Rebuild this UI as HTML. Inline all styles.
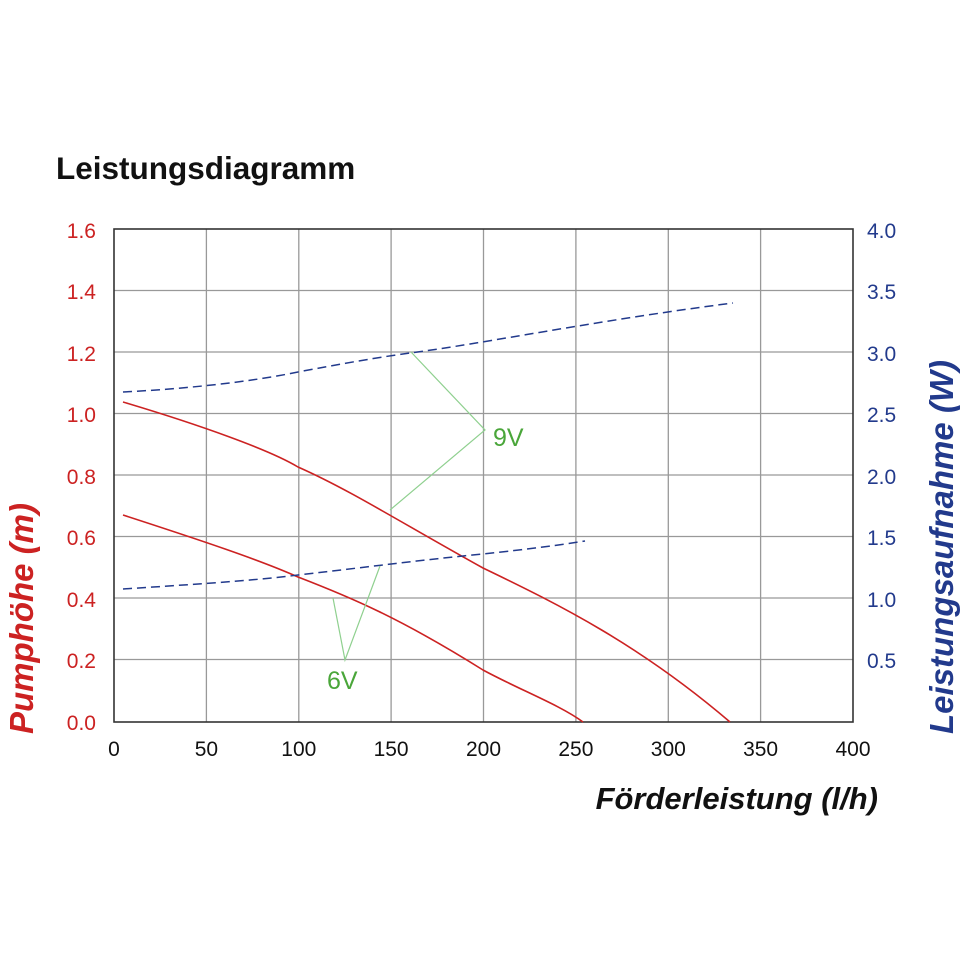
<!DOCTYPE html>
<html><head><meta charset="utf-8"><style>
body{margin:0;background:#fff}
svg{display:block;font-family:"Liberation Sans",Arial,sans-serif}
</style></head><body>
<svg width="970" height="971" viewBox="0 0 970 971">
<text x="56" y="179" font-size="31.5" font-weight="bold" fill="#111">Leistungsdiagramm</text>
<g stroke="#999" stroke-width="1.3">
<line x1="206.4" y1="229" x2="206.4" y2="722"/><line x1="298.8" y1="229" x2="298.8" y2="722"/>
<line x1="391.1" y1="229" x2="391.1" y2="722"/><line x1="483.5" y1="229" x2="483.5" y2="722"/>
<line x1="575.9" y1="229" x2="575.9" y2="722"/><line x1="668.3" y1="229" x2="668.3" y2="722"/>
<line x1="760.6" y1="229" x2="760.6" y2="722"/>
<line x1="114" y1="290.5" x2="853" y2="290.5"/><line x1="114" y1="352" x2="853" y2="352"/>
<line x1="114" y1="413.5" x2="853" y2="413.5"/><line x1="114" y1="475" x2="853" y2="475"/>
<line x1="114" y1="536.5" x2="853" y2="536.5"/><line x1="114" y1="598" x2="853" y2="598"/>
<line x1="114" y1="659.5" x2="853" y2="659.5"/>
</g>
<rect x="114" y="229" width="739" height="493" fill="none" stroke="#333" stroke-width="1.6"/>
<g fill="none" stroke="#cc2222" stroke-width="1.6">
<path d="M123,402 C200,425 270,450 298,467 C350,490 400,522 483,568 C560,605 640,645 730,722"/>
<path d="M123,515 C200,540 260,560 298,577 C350,597 400,618 483,670 C520,690 560,705 583,722"/>
</g>
<g fill="none" stroke="#223a8c" stroke-width="1.5" stroke-dasharray="9,5">
<path d="M123,392 C200,388 260,380 298,372 C340,364 380,357 410,353 C480,344 600,320 733,303"/>
<path d="M123,589 C200,584 260,580 298,575 C360,568 420,560 483,554 C530,549 560,545 585,541"/>
</g>
<g stroke="#8fd08f" stroke-width="1.2" fill="none">
<path d="M411,352 L485,430 L390,510"/>
<path d="M333,598 L345,660 L380,566"/>
</g>
<text x="493" y="446" font-size="25" fill="#4aa63a">9V</text>
<text x="327" y="689" font-size="25" fill="#4aa63a">6V</text>
<g font-size="21" fill="#cc2222" text-anchor="end">
<text x="96" y="238">1.6</text><text x="96" y="299">1.4</text><text x="96" y="361">1.2</text>
<text x="96" y="422">1.0</text><text x="96" y="484">0.8</text><text x="96" y="545">0.6</text>
<text x="96" y="607">0.4</text><text x="96" y="668">0.2</text><text x="96" y="730">0.0</text>
</g>
<g font-size="21" fill="#223a8c">
<text x="867" y="238">4.0</text><text x="867" y="299">3.5</text><text x="867" y="361">3.0</text>
<text x="867" y="422">2.5</text><text x="867" y="484">2.0</text><text x="867" y="545">1.5</text>
<text x="867" y="607">1.0</text><text x="867" y="668">0.5</text>
</g>
<g font-size="21" fill="#111" text-anchor="middle">
<text x="114" y="756">0</text><text x="206.4" y="756">50</text><text x="298.8" y="756">100</text>
<text x="391.1" y="756">150</text><text x="483.5" y="756">200</text><text x="575.9" y="756">250</text>
<text x="668.3" y="756">300</text><text x="760.6" y="756">350</text><text x="853" y="756">400</text>
</g>
<text x="878" y="809" font-size="31" font-weight="bold" font-style="italic" fill="#111" text-anchor="end">Förderleistung (l/h)</text>
<text transform="translate(33,734) rotate(-90)" font-size="33" font-weight="bold" font-style="italic" fill="#cc2222">Pumphöhe (m)</text>
<text transform="translate(953,734) rotate(-90)" font-size="33" font-weight="bold" font-style="italic" fill="#223a8c">Leistungsaufnahme (W)</text>
</svg>
</body></html>
